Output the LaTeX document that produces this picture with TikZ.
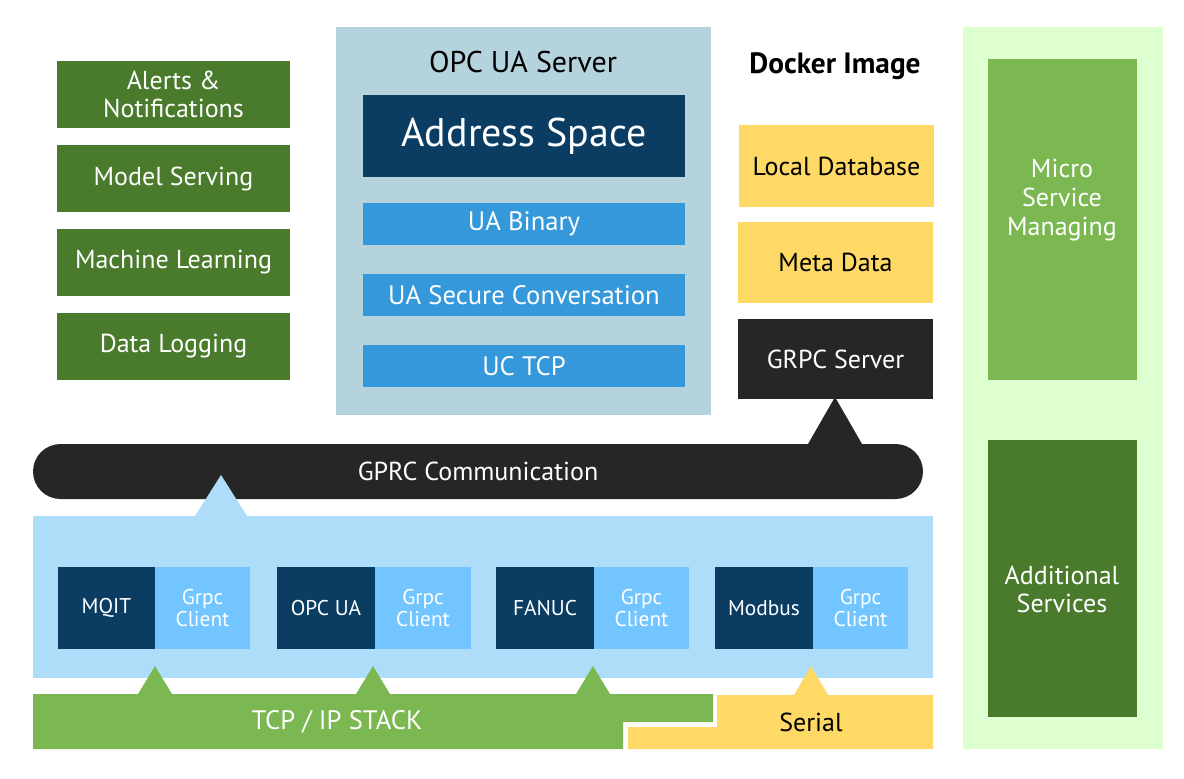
\documentclass[tikz,border=0pt]{standalone}
\usepackage{fontspec}
\setmainfont{PT Sans}
\usetikzlibrary{fit,calc}
\definecolor{dgreen}{HTML}{4A7A2B}
\definecolor{mgreen}{HTML}{7CB852}
\definecolor{lgreen}{HTML}{DEFFCF}
\definecolor{yel}{HTML}{FED966}
\definecolor{navy}{HTML}{0B3D62}
\definecolor{mblue}{HTML}{3498DB}
\definecolor{lblue}{HTML}{AEDDFA}
\definecolor{cblue}{HTML}{73C5FF}
\definecolor{blk}{HTML}{262626}
\definecolor{gblue}{HTML}{B5D3DD}
\tikzset{
  bx/.style={inner sep=0pt, outer sep=0pt, align=center, text=white, font=\fontsize{19.5}{21}\selectfont},
  gbx/.style={bx, fill=dgreen},
  ybx/.style={bx, fill=yel, text=black},
  ubx/.style={bx, fill=mblue, font=\fontsize{20}{20}\selectfont},
  cdk/.style={bx, fill=navy, font=\fontsize{16}{16}\selectfont},
  clt/.style={bx, fill=cblue, font=\fontsize{16}{17}\selectfont},
  tri/.style={fill=#1, draw=none}
}
\newcommand\mybox[4]{\node[#1, fit={#3}] (#2) {}; \node[#1, fill=none, anchor=center] at (#2.center) {#4};}
\begin{document}
\begin{tikzpicture}[x=0.75pt,y=-0.75pt]
\useasboundingbox (0,0) rectangle (1184,778);
% left green boxes
\mybox{gbx}{alerts}{(57,61) (290,128)}{Alerts \&\\Notifications}
\mybox{gbx}{model}{(57,145) (290,212)}{Model Serving}
\mybox{gbx}{ml}{(57,229) (290,296)}{Machine Learning}
\mybox{gbx}{dlog}{(57,313) (290,380)}{Data Logging}
% OPC UA server panel
\node[bx, fill=gblue, fit={(336,27) (711,415)}] (opc) {};
\node[bx, text=black, font=\fontsize{22.5}{22}\selectfont] (opct) at (523,62) {OPC UA Server};
\mybox{bx, fill=navy, font=\fontsize{30}{30}\selectfont}{addr}{(363,95) (685,177)}{Address Space}
\mybox{ubx}{uabin}{(363,203) (685,245)}{UA Binary}
\mybox{ubx}{uasec}{(363,274) (685,316)}{UA Secure Conversation}
\mybox{ubx}{uctcp}{(363,345) (685,387)}{UC TCP}
% Docker image column
\node[bx, text=black, font=\bfseries\fontsize{22}{22}\selectfont] (docker) at (835,66) {Docker Image};
\mybox{ybx}{localdb}{(739,125) (934,207)}{Local Database}
\mybox{ybx}{meta}{(738,222) (933,303)}{Meta Data}
\mybox{bx, fill=blk}{srv}{(738,319) (933,399)}{GRPC Server}
% right panel
\node[bx, fill=lgreen, fit={(963,27) (1163,749)}] (rpanel) {};
\node[bx, fill=mgreen, fit={(988,59) (1137,380)}] (micro) {};
\node[bx, font=\fontsize{19.5}{21.75}\selectfont] (microt) at (1062,200) {Micro\\Service\\Managing};
\node[bx, fill=dgreen, fit={(988,440) (1137,717)}] (addl) {};
\node[bx] (addlt) at (1062,589) {Additional\\Services};
% GPRC communication bar
\mybox{bx, fill=blk, rounded corners=27.5*0.75pt}{gprc}{(33,444) (923,499)}{GPRC Communication}
% client panel
\node[bx, fill=lblue, fit={(33,516) (933,678)}] (cpanel) {};
\mybox{cdk}{mqit}{(58,567) (155,649)}{MQIT}
\mybox{clt}{g1}{(155,567) (250,649)}{Grpc\\Client}
\mybox{cdk}{opcua}{(277,567) (375,649)}{OPC UA}
\mybox{clt}{g2}{(375,567) (471,649)}{Grpc\\Client}
\mybox{cdk}{fanuc}{(496,567) (594,649)}{FANUC}
\mybox{clt}{g3}{(594,567) (689,649)}{Grpc\\Client}
\mybox{cdk}{modbus}{(715,567) (813,649)}{Modbus}
\mybox{clt}{g4}{(813,567) (908,649)}{Grpc\\Client}
% triangles between client panel and GPRC bar / server
\fill[tri=lblue] ($(cpanel.north west)+(162,0)$) -- ($(cpanel.north west)+(188,-41)$) -- ($(cpanel.north west)+(214,0)$) -- cycle;
\fill[tri=blk] ($(gprc.north west)+(775,0)$) -- ($(srv.south)+(-0.5,-2)$) -- ($(gprc.north west)+(829,0)$) -- cycle;
% bottom stacks
\fill[mgreen] (33,694) -- (713,694) -- (713,722) -- (623,722) -- (623,749) -- (33,749) -- cycle;
\node[bx, font=\fontsize{20}{20}\selectfont] (tcp) at (337,722) {TCP / IP STACK};
\fill[yel] (717,695) -- (933,695) -- (933,749) -- (628,749) -- (628,727) -- (717,727) -- cycle;
\node[bx, text=black, font=\fontsize{19.5}{20}\selectfont] (serial) at (811,722) {Serial};
\foreach \xx in {155,373,593}{
  \fill[tri=mgreen] (\xx-17,694) -- (\xx,666) -- (\xx+17,694) -- cycle;
}
\fill[tri=yel] (794,695) -- (811,666) -- (828,695) -- cycle;
\end{tikzpicture}
\end{document}
